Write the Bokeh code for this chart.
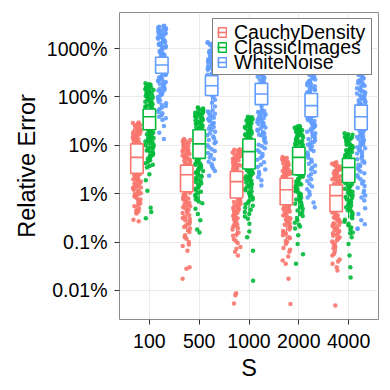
from bokeh.plotting import figure
from bokeh.models import (FactorRange, Range1d, FixedTicker, NumeralTickFormatter,
                          ColumnDataSource, Legend, LegendItem)
from bokeh.transform import dodge, jitter
from bokeh.embed import file_html
from bokeh.resources import INLINE

S = ["100", "500", "1000", "2000", "4000"]
groups = ["CauchyDensity", "ClassicImages", "WhiteNoise"]
colors = ["#F8766D", "#00BA38", "#619CFF"]
y_ticks = [0.0001, 0.001, 0.01, 0.1, 1, 10]
y_tick_labels = ["0.01%", "0.1%", "1%", "10%", "100%", "1000%"]

# observed relative errors, stored as log10 of the error fraction
cauchy_100 = [-0.53, -0.55, -0.58, -0.6, -0.61, -0.64, -0.67, -0.69, -0.7, -0.73, -0.76, -0.78, -0.8, -0.82,
              -0.84, -0.87, -0.88, -0.91, -0.93, -0.96, -1.01, -1.04, -1.1, -1.17, -1.2, -1.26, -1.29, -1.36,
              -1.41, -1.44, -1.51, -1.56, -1.6, -1.62, -1.66, -1.7, -1.71, -1.75, -1.79, -1.8, -1.85, -1.88,
              -1.9, -1.94, -1.97, -2.01, -2.06, -2.09, -2.14, -2.2, -2.23, -2.31, -2.37, -2.41, -2.54, -2.57,
              -0.54, -0.59, -0.62, -0.66, -0.68, -0.72, -0.74, -0.77, -0.79, -0.83, -0.85, -0.89, -0.92, -0.95,
              -1.62, -1.64, -1.68, -1.73, -1.77, -1.83, -1.87, -1.92, -1.99, -2.03, -2.12, -2.17, -2.26, -2.34,
              -2.39, -2.0]
cauchy_500 = [-0.87, -0.9, -0.94, -0.96, -0.99, -1.03, -1.05, -1.08, -1.1, -1.13, -1.16, -1.18, -1.21, -1.24,
              -1.27, -1.3, -1.32, -1.36, -1.39, -1.43, -1.47, -1.52, -1.56, -1.6, -1.65, -1.7, -1.75, -1.8,
              -1.86, -1.91, -1.98, -2.02, -2.05, -2.1, -2.14, -2.17, -2.22, -2.26, -2.3, -2.35, -2.4, -2.44,
              -2.5, -2.55, -2.6, -2.66, -2.72, -2.79, -2.86, -2.93, -3.0, -3.08, -3.18, -3.52, -3.55, -3.76,
              -0.89, -0.92, -0.98, -1.01, -1.07, -1.12, -1.15, -1.2, -1.23, -1.26, -1.29, -1.34, -1.38, -2.0,
              -2.04, -2.08, -2.12, -2.19, -2.24, -2.28, -2.33, -2.38, -2.47, -2.52, -2.58, -2.63, -2.69, -2.76,
              -2.9, -3.05]
cauchy_1000 = [-1.08, -1.1, -1.13, -1.16, -1.19, -1.22, -1.25, -1.28, -1.31, -1.34, -1.37, -1.4, -1.43, -1.46,
               -1.49, -1.52, -1.57, -1.61, -1.65, -1.7, -1.74, -1.79, -1.84, -1.89, -1.94, -1.99, -2.04, -2.11,
               -2.15, -2.19, -2.23, -2.27, -2.31, -2.35, -2.4, -2.44, -2.49, -2.53, -2.58, -2.63, -2.68, -2.74,
               -2.8, -2.87, -2.94, -3.02, -3.1, -3.2, -3.28, -4.06, -4.1, -4.27,
               -1.09, -1.12, -1.15, -1.18, -1.21, -1.24, -1.27, -1.3, -1.33, -1.36, -1.39, -1.42, -1.45, -1.48,
               -2.13, -2.17, -2.21, -2.25, -2.29, -2.33, -2.38, -2.42, -2.46, -2.51, -2.56, -2.61, -2.66, -2.71,
               -2.84, -2.98, -3.14]
cauchy_2000 = [-1.24, -1.27, -1.3, -1.33, -1.36, -1.39, -1.42, -1.45, -1.48, -1.51, -1.54, -1.57, -1.6, -1.63,
               -1.66, -1.7, -1.74, -1.79, -1.83, -1.88, -1.92, -1.97, -2.02, -2.07, -2.12, -2.18, -2.25, -2.29,
               -2.33, -2.37, -2.41, -2.45, -2.5, -2.54, -2.59, -2.64, -2.69, -2.74, -2.8, -2.86, -2.92, -2.98,
               -3.04, -3.12, -3.2, -3.3, -3.38, -3.45, -3.76, -4.28,
               -1.26, -1.29, -1.32, -1.35, -1.38, -1.41, -1.44, -1.47, -1.5, -1.53, -1.56, -1.59, -1.62, -1.65,
               -2.27, -2.31, -2.35, -2.39, -2.43, -2.47, -2.52, -2.56, -2.61, -2.66, -2.71, -2.77, -2.83, -2.9,
               -3.0, -3.16]
cauchy_4000 = [-1.35, -1.38, -1.41, -1.44, -1.47, -1.5, -1.53, -1.56, -1.59, -1.62, -1.65, -1.68, -1.71, -1.74,
               -1.77, -1.8, -1.84, -1.88, -1.92, -1.96, -2.0, -2.05, -2.1, -2.15, -2.2, -2.26, -2.32, -2.39,
               -2.43, -2.47, -2.51, -2.55, -2.59, -2.63, -2.67, -2.72, -2.77, -2.82, -2.87, -2.93, -2.99, -3.06,
               -3.13, -3.2, -3.28, -3.36, -3.45, -3.52, -3.59, -4.31,
               -1.37, -1.4, -1.43, -1.46, -1.49, -1.52, -1.55, -1.58, -1.61, -1.64, -1.67, -1.7, -1.73, -1.76,
               -1.79, -2.41, -2.45, -2.49, -2.53, -2.57, -2.61, -2.65, -2.7, -2.75, -2.8, -2.85, -2.9, -2.96,
               -3.03, -3.1, -3.24, -3.4]

classic_100 = [0.28, 0.25, 0.22, 0.2, 0.16, 0.14, 0.1, 0.08, 0.05, 0.03, 0.0, -0.02, -0.05, -0.07, -0.1, -0.12,
               -0.15, -0.17, -0.2, -0.23, -0.27, -0.3, -0.33, -0.37, -0.4, -0.43, -0.47, -0.5, -0.55, -0.58,
               -0.63, -0.66, -0.7, -0.72, -0.75, -0.78, -0.8, -0.83, -0.86, -0.89, -0.91, -0.95, -0.98, -1.02,
               -1.05, -1.09, -1.13, -1.17, -1.22, -1.28, -1.34, -1.4, -1.46, -1.6, -1.72, -1.94, -2.29, -2.38,
               -2.51,
               0.26, 0.23, 0.19, 0.17, 0.12, 0.09, 0.06, 0.02, -0.01, -0.04, -0.08, -0.11, -0.14, -0.18, -0.21,
               -0.24, -0.69, -0.71, -0.74, -0.77, -0.82, -0.85, -0.88, -0.92, -0.96, -1.0, -1.04, -1.07, -1.11,
               -1.15, -1.2, -1.25, -1.31, -1.37, -1.43]
classic_500 = [-0.22, -0.24, -0.27, -0.3, -0.32, -0.35, -0.37, -0.4, -0.43, -0.45, -0.48, -0.5, -0.53, -0.56,
               -0.59, -0.62, -0.65, -0.7, -0.75, -0.8, -0.85, -0.9, -0.95, -1.0, -1.05, -1.1, -1.15, -1.2,
               -1.25, -1.29, -1.32, -1.35, -1.38, -1.41, -1.44, -1.48, -1.51, -1.55, -1.59, -1.63, -1.67, -1.71,
               -1.76, -1.81, -1.86, -1.92, -1.98, -2.05, -2.12, -2.2, -2.31, -2.42, -2.55, -2.74, -2.8,
               -0.23, -0.26, -0.29, -0.33, -0.36, -0.39, -0.42, -0.46, -0.49, -0.52, -0.55, -0.58, -0.61, -0.64,
               -0.67, -1.3, -1.33, -1.37, -1.4, -1.43, -1.46, -1.5, -1.53, -1.57, -1.61, -1.65, -1.69, -1.74,
               -1.79, -1.84, -1.9, -1.96, -2.02, -2.09, -2.16]
classic_1000 = [-0.41, -0.43, -0.46, -0.49, -0.51, -0.54, -0.57, -0.6, -0.62, -0.65, -0.68, -0.71, -0.74, -0.77,
                -0.8, -0.84, -0.89, -0.93, -0.98, -1.02, -1.07, -1.12, -1.17, -1.22, -1.28, -1.34, -1.4, -1.46,
                -1.52, -1.55, -1.58, -1.62, -1.65, -1.69, -1.73, -1.77, -1.81, -1.85, -1.9, -1.95, -2.0, -2.06,
                -2.12, -2.18, -2.25, -2.33, -2.42, -2.52, -2.62, -2.78, -2.9, -3.18, -3.8,
                -0.42, -0.45, -0.48, -0.5, -0.53, -0.56, -0.59, -0.61, -0.64, -0.67, -0.7, -0.73, -0.76, -0.79,
                -0.82, -0.85, -1.51, -1.54, -1.57, -1.6, -1.64, -1.67, -1.71, -1.75, -1.79, -1.83, -1.88, -1.93,
                -1.98, -2.03, -2.09, -2.15, -2.22, -2.29, -2.38, -2.47]
classic_2000 = [-0.6, -0.62, -0.65, -0.68, -0.7, -0.73, -0.76, -0.79, -0.82, -0.85, -0.88, -0.91, -0.94, -0.97,
                -1.0, -1.06, -1.1, -1.14, -1.18, -1.22, -1.27, -1.32, -1.37, -1.42, -1.48, -1.54, -1.59, -1.63,
                -1.67, -1.71, -1.75, -1.79, -1.83, -1.87, -1.92, -1.97, -2.02, -2.07, -2.12, -2.18, -2.24, -2.31,
                -2.38, -2.46, -2.55, -2.64, -2.72, -2.86, -3.04, -3.25, -3.45,
                -0.61, -0.64, -0.67, -0.69, -0.72, -0.75, -0.78, -0.81, -0.84, -0.87, -0.9, -0.93, -0.96, -0.99,
                -1.02, -1.62, -1.65, -1.69, -1.73, -1.77, -1.81, -1.85, -1.9, -1.95, -2.0, -2.05, -2.1, -2.15,
                -2.21, -2.28, -2.35, -2.42, -2.5, -2.6, -2.68]
classic_4000 = [-0.75, -0.78, -0.81, -0.84, -0.87, -0.9, -0.93, -0.96, -0.99, -1.02, -1.05, -1.08, -1.11, -1.14,
                -1.17, -1.2, -1.23, -1.3, -1.33, -1.37, -1.41, -1.45, -1.49, -1.53, -1.58, -1.63, -1.68, -1.73,
                -1.8, -1.84, -1.88, -1.92, -1.96, -2.0, -2.04, -2.09, -2.14, -2.19, -2.25, -2.31, -2.37, -2.44,
                -2.51, -2.58, -2.66, -2.74, -2.82, -2.9, -3.04, -3.28, -3.52, -3.73,
                -0.77, -0.8, -0.83, -0.86, -0.89, -0.92, -0.95, -0.98, -1.01, -1.04, -1.07, -1.1, -1.13, -1.16,
                -1.19, -1.22, -1.25, -1.78, -1.82, -1.86, -1.9, -1.94, -1.98, -2.02, -2.07, -2.12, -2.17, -2.22,
                -2.28, -2.34, -2.4, -2.47, -2.54, -2.62, -2.7, -2.8]

white_100 = [1.47, 1.45, 1.42, 1.4, 1.37, 1.35, 1.32, 1.3, 1.27, 1.24, 1.22, 1.19, 1.16, 1.13, 1.1, 1.07, 1.04,
             1.0, 0.97, 0.94, 0.9, 0.87, 0.84, 0.8, 0.77, 0.73, 0.7, 0.66, 0.62, 0.58, 0.55, 0.51, 0.47, 0.43,
             0.4, 0.36, 0.33, 0.29, 0.25, 0.21, 0.17, 0.13, 0.09, 0.05, 0.0, -0.05, -0.1, -0.16, -0.22, -0.28,
             -0.34, -0.41, -0.48, -0.6, -0.74, -0.87,
             1.46, 1.43, 1.41, 1.38, 1.36, 1.33, 1.31, 1.28, 1.25, 1.23, 1.2, 1.17, 1.14, 1.11, 1.08, 1.05, 1.02,
             0.99, 0.95, 0.92, 0.88, 0.85, 0.45, 0.41, 0.38, 0.34, 0.31, 0.27, 0.23, 0.19, 0.15, 0.11, 0.07,
             0.03, -0.02, -0.07, -0.13, -0.19, -0.25, -0.31, -0.38, -0.44]
white_500 = [1.13, 1.1, 1.07, 1.04, 1.01, 0.98, 0.95, 0.92, 0.89, 0.86, 0.83, 0.8, 0.77, 0.73, 0.7, 0.66, 0.62,
             0.58, 0.54, 0.5, 0.46, 0.42, 0.38, 0.33, 0.29, 0.25, 0.21, 0.16, 0.12, 0.08, 0.04, 0.0, -0.06,
             -0.12, -0.2, -0.28, -0.33, -0.38, -0.43, -0.48, -0.54, -0.6, -0.66, -0.72, -0.79, -0.86, -0.93,
             -1.0, -1.08, -1.16, -1.25, -1.34, -1.44, -1.53, -1.63,
             1.12, 1.09, 1.06, 1.03, 1.0, 0.97, 0.94, 0.91, 0.88, 0.85, 0.82, 0.78, 0.75, 0.72, 0.68, 0.64, 0.6,
             0.56, 0.52, 0.48, -0.3, -0.35, -0.4, -0.45, -0.5, -0.56, -0.62, -0.68, -0.75, -0.82, -0.89, -0.96,
             -1.04, -1.12, -1.2, -1.29, -1.39, -1.48]
white_1000 = [1.2, 1.1, 1.0, 0.92, 0.85, 0.78, 0.72, 0.66, 0.6, 0.55, 0.5, 0.46, 0.42, 0.38, 0.34, 0.31, 0.26,
              0.22, 0.18, 0.14, 0.1, 0.06, 0.02, -0.03, -0.08, -0.13, -0.2, -0.27, -0.32, -0.36, -0.4, -0.44,
              -0.48, -0.52, -0.56, -0.6, -0.65, -0.7, -0.75, -0.8, -0.86, -0.92, -0.99, -1.06, -1.14, -1.22,
              -1.3, -1.4, -1.5, -1.6, -1.72, -1.83,
              0.47, 0.44, 0.4, 0.36, 0.33, 0.29, -0.29, -0.31, -0.34, -0.38, -0.42, -0.46, -0.5, -0.54, -0.58,
              -0.63, -0.68, -0.73, -0.78, -0.83, -0.89, -0.95, -1.02, -1.1, -1.18, -1.26, -1.35, -1.45, -1.55,
              -1.66]
white_2000 = [0.9, 0.8, 0.7, 0.62, 0.55, 0.5, 0.45, 0.4, 0.36, 0.32, 0.28, 0.24, 0.2, 0.16, 0.12, 0.09, 0.04,
              0.0, -0.05, -0.1, -0.15, -0.2, -0.25, -0.3, -0.35, -0.39, -0.44, -0.48, -0.52, -0.56, -0.6, -0.65,
              -0.7, -0.75, -0.8, -0.85, -0.9, -0.96, -1.02, -1.08, -1.15, -1.22, -1.3, -1.38, -1.46, -1.55,
              -1.64, -1.74, -1.85, -1.96, -2.08, -2.18, -2.28,
              0.46, 0.42, 0.38, 0.34, 0.3, 0.26, 0.22, 0.18, 0.14, 0.1, -0.43, -0.46, -0.5, -0.54, -0.58, -0.62,
              -0.67, -0.72, -0.77, -0.82, -0.87, -0.93, -0.99, -1.05, -1.12, -1.19, -1.26, -1.34, -1.42, -1.5,
              -1.6, -1.7, -1.8, -1.91, -2.02]
white_4000 = [0.5, 0.45, 0.4, 0.35, 0.3, 0.25, 0.2, 0.15, 0.11, 0.07, 0.03, -0.01, -0.05, -0.09, -0.13, -0.2,
              -0.24, -0.28, -0.32, -0.36, -0.41, -0.46, -0.51, -0.56, -0.61, -0.66, -0.71, -0.75, -0.79, -0.83,
              -0.87, -0.91, -0.96, -1.01, -1.06, -1.11, -1.17, -1.23, -1.29, -1.36, -1.43, -1.5, -1.58, -1.66,
              -1.75, -1.84, -1.94, -2.04, -2.14, -2.3, -2.42, -2.55, -2.63, -2.72, -2.73,
              0.48, 0.43, 0.38, 0.33, 0.28, 0.23, 0.18, 0.13, 0.09, 0.05, 0.01, -0.03, -0.07, -0.11, -0.15, -0.69,
              -0.73, -0.77, -0.81, -0.85, -0.89, -0.94, -0.99, -1.04, -1.09, -1.14, -1.2, -1.26, -1.33, -1.4,
              -1.47, -1.54, -1.62, -1.7, -1.79, -1.88, -1.98, -2.08]

# box statistics (log10 of error fraction), one value per S
cauchy_q1 = [-1.58, -1.96, -2.09, -2.23, -2.37]
cauchy_med = [-1.25, -1.61, -1.75, -1.92, -2.04]
cauchy_q3 = [-0.97, -1.41, -1.54, -1.68, -1.82]
cauchy_lo = [-2.41, -2.79, -2.91, -3.06, -3.19]
cauchy_hi = [-0.53, -0.87, -1.08, -1.24, -1.35]

classic_q1 = [-0.68, -1.27, -1.49, -1.61, -1.77]
classic_med = [-0.41, -0.97, -1.13, -1.25, -1.46]
classic_q3 = [-0.25, -0.68, -0.87, -1.04, -1.27]
classic_lo = [-1.32, -2.15, -2.42, -2.47, -2.51]
classic_hi = [0.28, -0.22, -0.41, -0.6, -0.75]

white_q1 = [0.49, 0.03, -0.16, -0.41, -0.68]
white_med = [0.66, 0.23, 0.06, -0.18, -0.41]
white_q3 = [0.82, 0.44, 0.28, 0.07, -0.17]
white_lo = [0.01, -0.6, -0.82, -1.13, -1.44]
white_hi = [1.3, 1.06, 0.94, 0.79, 0.5]

points = [
    [cauchy_100, cauchy_500, cauchy_1000, cauchy_2000, cauchy_4000],
    [classic_100, classic_500, classic_1000, classic_2000, classic_4000],
    [white_100, white_500, white_1000, white_2000, white_4000],
]
boxes = [
    (cauchy_q1, cauchy_med, cauchy_q3, cauchy_lo, cauchy_hi),
    (classic_q1, classic_med, classic_q3, classic_lo, classic_hi),
    (white_q1, white_med, white_q3, white_lo, white_hi),
]
offsets = [-0.25, 0.0, 0.25]

FONT = "Liberation Sans"

p = figure(width=388, height=388,
           x_range=FactorRange(factors=S, range_padding=0.04),
           y_range=Range1d(10 ** -4.6, 10 ** 1.744),
           y_axis_type="log", output_backend="svg", toolbar_location=None,
           min_border_left=119, min_border_right=10, min_border_top=12, min_border_bottom=69)

p.background_fill_color = "white"
p.outline_line_color = "#8c8c8c"
p.outline_line_width = 1

tick = FixedTicker(ticks=y_ticks)
p.yaxis.ticker = tick
p.ygrid.ticker = tick
p.yaxis.formatter = NumeralTickFormatter(format="0.[00]%")
p.yaxis.major_label_overrides = dict(zip(y_ticks, y_tick_labels))

for ax in (p.xaxis, p.yaxis):
    ax.axis_line_color = None
    ax.major_tick_line_color = "#333333"
    ax.major_tick_out = 5
    ax.major_tick_in = 0
    ax.minor_tick_line_color = None
    ax.major_label_text_font = FONT
    ax.major_label_text_font_size = "19.5px"
    ax.major_label_text_color = "black"
    ax.axis_label_text_font = FONT
    ax.axis_label_text_font_size = "23.5px"
    ax.axis_label_text_font_style = "normal"
    ax.axis_label_text_color = "black"

p.xaxis.axis_label = "S"
p.yaxis.axis_label = "Relative Error"
p.yaxis.major_label_standoff = 7
p.xaxis.major_label_standoff = 9
p.yaxis.axis_label_standoff = 4
p.xaxis.axis_label_standoff = 4

p.xgrid.grid_line_color = "#ebebeb"
p.ygrid.grid_line_color = "#ebebeb"
p.xgrid.grid_line_width = 1
p.ygrid.grid_line_width = 1

# jittered points
for gi, g in enumerate(groups):
    xs, ys = [], []
    for si, s in enumerate(S):
        vals = points[gi][si]
        xs += [s] * len(vals)
        ys += [10 ** v for v in vals]
    src = ColumnDataSource(dict(S=xs, y=ys))
    p.scatter(x=jitter("S", width=0.17, mean=offsets[gi], distribution="uniform", range=p.x_range),
              y="y", source=src, size=4.5, fill_color=colors[gi], fill_alpha=0.9, line_color=None)

items = []
for gi, g in enumerate(groups):
    q1, med, q3, lo, hi = boxes[gi]
    src = ColumnDataSource(dict(S=S, q1=[10 ** v for v in q1], med=[10 ** v for v in med],
                                q3=[10 ** v for v in q3], lo=[10 ** v for v in lo],
                                hi=[10 ** v for v in hi]))
    off = offsets[gi]
    xc = dodge("S", off, range=p.x_range)
    p.segment(x0=xc, x1=xc, y0="q3", y1="hi", source=src, line_color=colors[gi], line_width=1.2)
    p.segment(x0=xc, x1=xc, y0="q1", y1="lo", source=src, line_color=colors[gi], line_width=1.2)
    rb = p.vbar(x=xc, width=0.25, top="q3", bottom="q1", source=src,
                fill_color="white", line_color=colors[gi], line_width=1.6)
    rm = p.segment(x0=dodge("S", off - 0.125, range=p.x_range), x1=dodge("S", off + 0.125, range=p.x_range),
                   y0="med", y1="med", source=src, line_color=colors[gi], line_width=1.6)
    items.append(LegendItem(label=g, renderers=[rb, rm]))

# legend frame (an empty, invisible entry sized like the ggplot key box)
blank = p.scatter(x=[], y=[], fill_alpha=0, line_alpha=0)
frame_legend = Legend(items=[LegendItem(label=" ", renderers=[blank])], location="top_right",
                      margin=6, padding=3, glyph_width=10, glyph_height=12, label_height=49,
                      label_width=135, label_standoff=7, label_text_font_size="18px",
                      border_line_color="black", border_line_width=1,
                      background_fill_color="white", background_fill_alpha=1.0)
p.add_layout(frame_legend)

# tightly stacked legend entries (one per group), as in the ggplot key
entry_bottoms = [275, 260, 245]
for gi, item in enumerate(items):
    lg = Legend(items=[item], location=(98, entry_bottoms[gi]), margin=0, padding=0,
                glyph_width=10, glyph_height=12, label_height=24, label_standoff=7,
                label_text_font=FONT, label_text_font_size="19.5px", label_text_color="black",
                border_line_color=None, background_fill_alpha=0.0)
    p.add_layout(lg)

open("out.html", "w").write(file_html(p, INLINE))
